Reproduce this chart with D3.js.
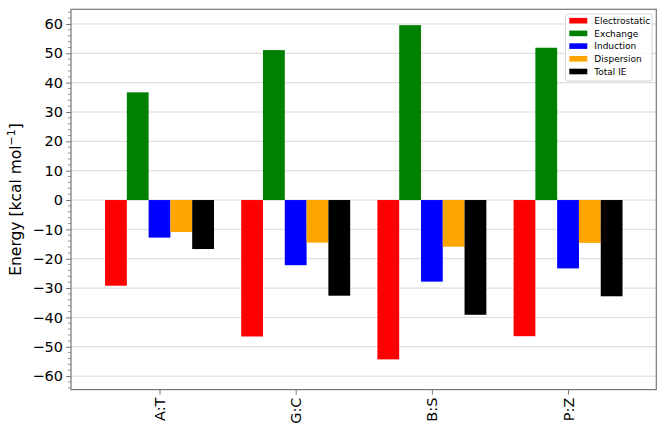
<!DOCTYPE html>
<html><head><meta charset="utf-8">
<script src="https://cdn.jsdelivr.net/npm/d3@7"></script>
<style>body{margin:0;background:#fff;} text{font-family:"DejaVu Sans",sans-serif;}</style>
</head><body><svg id="c" width="666" height="442"></svg>
<script>
const categories = ["A:T","G:C","B:S","P:Z"];
const seriesNames = ["Electrostatic","Exchange","Induction","Dispersion","Total IE"];
const seriesColors = ["#ff0000","#008000","#0000ff","#ffa500","#000000"];
const electrostatic = [-29.2, -46.5, -54.3, -46.4];
const exchange = [36.7, 51.1, 59.6, 51.9];
const induction = [-12.8, -22.2, -27.8, -23.3];
const dispersion = [-10.9, -14.5, -15.9, -14.6];
const totalIE = [-16.7, -32.6, -39.1, -32.8];
const seriesValues = [electrostatic, exchange, induction, dispersion, totalIE];
const yMajorTicks = [-60,-50,-40,-30,-20,-10,0,10,20,30,40,50,60];

const svg = d3.select("#c");
const L = 71, R = 656.3, T = 9.3, B = 389.6;
const x = d3.scaleLinear().domain([-0.65, 3.648]).range([L, R]);
const y = d3.scaleLinear().domain([-64.6, 65]).range([B, T]);
const bw = 0.16;

// grid
svg.append("g").selectAll("line").data(yMajorTicks).join("line")
  .attr("x1", L).attr("x2", R).attr("y1", d => y(d)).attr("y2", d => y(d))
  .attr("stroke", "#d9d9d9").attr("stroke-width", 1);

// bars
seriesValues.forEach((vals, j) => {
  svg.append("g").selectAll("rect").data(vals).join("rect")
    .attr("x", (d, i) => x(i + (j - 2) * bw - bw / 2))
    .attr("width", x(bw) - x(0))
    .attr("y", d => y(Math.max(0, d)))
    .attr("height", d => Math.abs(y(d) - y(0)))
    .attr("fill", seriesColors[j]);
});

// frame
svg.append("rect").attr("x", L).attr("y", T).attr("width", R - L).attr("height", B - T)
  .attr("fill", "none").attr("stroke", "#777").attr("stroke-width", 1.2);

// y axis
const yAxis = d3.axisLeft(y).tickValues(yMajorTicks).tickSize(5).tickPadding(3)
  .tickFormat(d => d < 0 ? "\u2212" + Math.abs(d) : d);
const gy = svg.append("g").attr("transform", `translate(${L},0)`).call(yAxis);
gy.select(".domain").remove();
gy.selectAll(".tick line").attr("stroke", "#777");
gy.selectAll(".tick text").attr("font-size", 14.5).attr("fill", "#000").style("font-family", "DejaVu Sans");
const minor = d3.range(-64, 65, 2).filter(v => v % 10 !== 0);
svg.append("g").selectAll("line").data(minor).join("line")
  .attr("x1", L - 3).attr("x2", L).attr("y1", d => y(d)).attr("y2", d => y(d))
  .attr("stroke", "#777").attr("stroke-width", 0.8);

// x axis
const xAxis = d3.axisBottom(x).tickValues(d3.range(categories.length)).tickSize(5).tickPadding(4)
  .tickFormat(i => categories[i]);
const gx = svg.append("g").attr("transform", `translate(0,${B})`).call(xAxis);
gx.select(".domain").remove();
gx.selectAll(".tick line").attr("stroke", "#777");
gx.selectAll(".tick text").attr("font-size", 14.5).attr("fill", "#000").style("font-family", "DejaVu Sans")
  .attr("transform", "rotate(-90)").attr("text-anchor", "end").attr("dy", "0.35em")
  .attr("x", -8).attr("y", 0);

// y label
const yl = svg.append("text").attr("transform", `translate(21,${(T + B) / 2}) rotate(-90)`)
  .attr("text-anchor", "middle").attr("font-size", 15.5).attr("fill", "#000");
yl.append("tspan").text("Energy [kcal mol");
yl.append("tspan").text("\u22121").attr("font-size", 11).attr("dy", -6);
yl.append("tspan").text("]").attr("dy", 6);

// legend
const lg = svg.append("g");
lg.append("rect").attr("x", 565.5).attr("y", 14).attr("width", 86.5).attr("height", 67)
  .attr("rx", 2).attr("fill", "#fff").attr("fill-opacity", 0.8).attr("stroke", "#ccc").attr("stroke-width", 0.8);
seriesNames.forEach((n, j) => {
  const cy = 20.7 + j * 12.7;
  lg.append("rect").attr("x", 569.3).attr("y", cy - 2.8).attr("width", 18).attr("height", 5.6).attr("fill", seriesColors[j]);
  lg.append("text").attr("x", 594.3).attr("y", cy).attr("dy", "0.35em").attr("font-size", 9).attr("fill", "#000").text(n);
});
</script></body></html>
